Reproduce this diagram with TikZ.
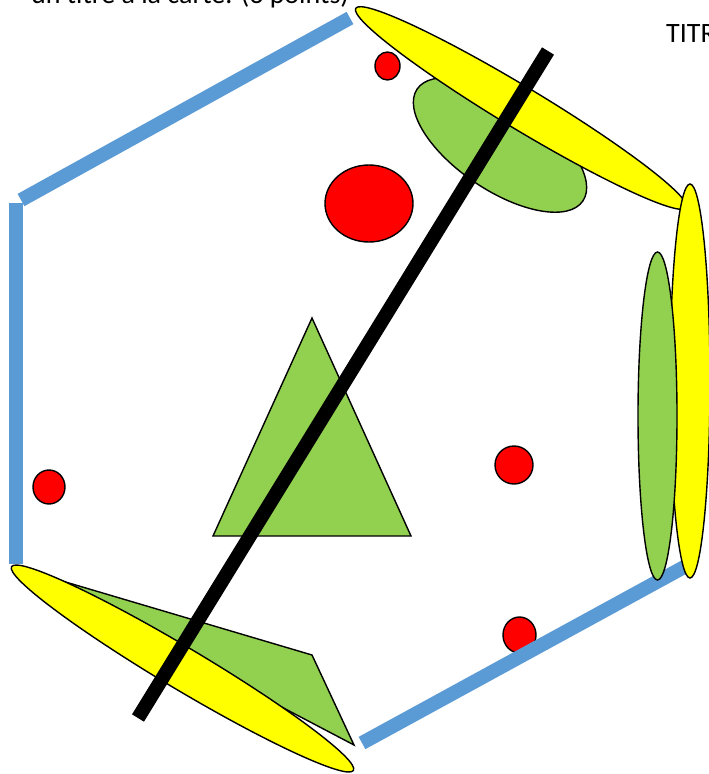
\documentclass[tikz,border=0pt]{standalone}
\usepackage{fontspec}
\setmainfont{Carlito}
\definecolor{hexblue}{HTML}{5B9BD5}
\definecolor{leafgreen}{HTML}{92D050}
\definecolor{sunyellow}{HTML}{FFFF00}
\definecolor{dotred}{HTML}{FF0000}
\tikzset{
  edgeline/.style={draw=hexblue, line width=14pt},
  reddot/.style={draw=black, line width=1.4pt, fill=dotred},
  greenshape/.style={draw=black, line width=1.4pt, fill=leafgreen},
  yellowshape/.style={draw=black, line width=1.4pt, fill=sunyellow},
  bigtext/.style={inner sep=0pt, font=\fontsize{28}{34}\selectfont}
}
\begin{document}
\begin{tikzpicture}[x=1pt, y=-1pt]
\useasboundingbox (0,0) rectangle (709,774);
\clip (0,0) rectangle (709,774);
\fill[white] (0,0) rectangle (709,774);
% red dots
\draw[reddot] (387.5,66) ellipse [x radius=12.5pt, y radius=14pt];
\draw[reddot] (369,203.5) ellipse [x radius=44pt, y radius=38.5pt];
\draw[reddot] (49,487) ellipse [x radius=16pt, y radius=17pt];
\draw[reddot] (514,465) ellipse [x radius=19pt, y radius=19pt];
\draw[reddot] (519.5,635) ellipse [x radius=16.5pt, y radius=18pt];
% hexagon edges
\coordinate (h1) at (21,200);
\coordinate (h2) at (350,18);
\coordinate (h3) at (16,203);
\coordinate (h4) at (16,564);
\coordinate (h5) at (362,743);
\coordinate (h6) at (686,566);
\draw[edgeline] (h1) -- (h2);
\draw[edgeline] (h3) -- (h4);
\draw[edgeline] (h5) -- (h6);
% bottom left shapes
\draw[greenshape] (15,567) -- (312,655) -- (354,745) -- cycle;
\draw[yellowshape, rotate around={-30.8:(182.5,668.5)}] (182.5,668.5) ellipse [x radius=199pt, y radius=21pt];
% top right shapes
\draw[greenshape, rotate around={-34:(500,145)}] (500,145) ellipse [x radius=100pt, y radius=45pt];
\draw[yellowshape, rotate around={-31.1:(521,108)}] (521,108) ellipse [x radius=193pt, y radius=21pt];
% right shapes
\draw[yellowshape] (690,381) ellipse [x radius=20pt, y radius=197pt];
\draw[greenshape] (657.5,416) ellipse [x radius=19.5pt, y radius=164pt];
% triangle
\draw[greenshape] (312,318) -- (411,536) -- (213,536) -- cycle;
% black line
\coordinate (b1) at (548,51);
\coordinate (b2) at (138,718);
\draw[black, line width=14pt] (b1) -- (b2);
% texts
\node[bigtext, anchor=base west] (instr) at (31,3) {un titre à la carte. (3 points)};
\node[bigtext, anchor=base west] (titre) at (666,42) {TITRE};
\end{tikzpicture}
\end{document}
